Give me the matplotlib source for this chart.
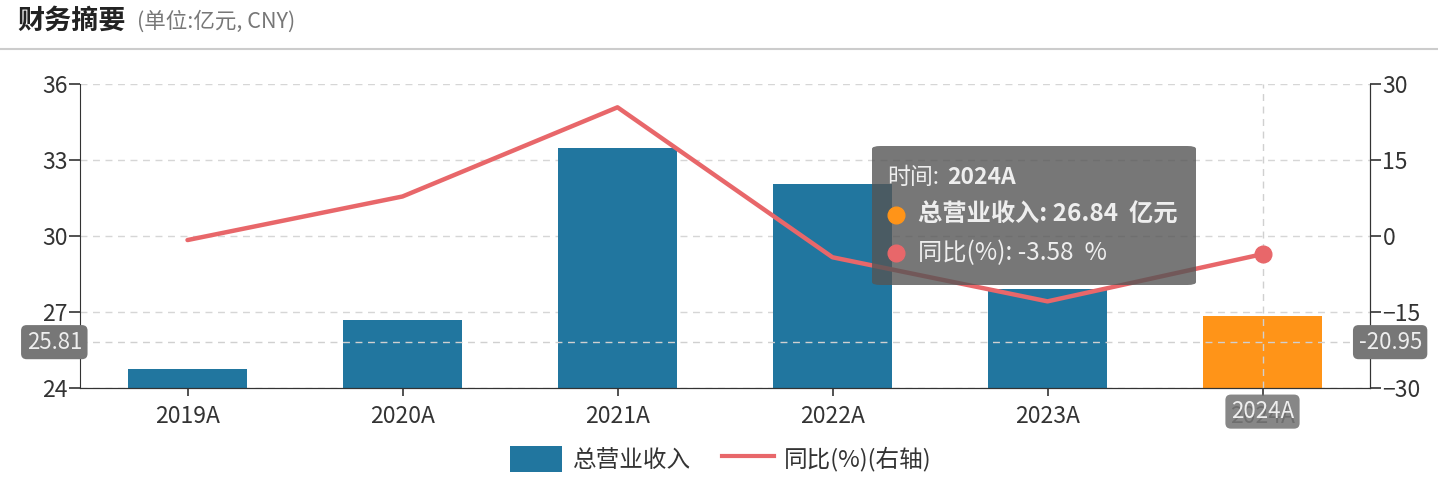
import matplotlib
matplotlib.use("Agg")
import matplotlib.pyplot as plt
from matplotlib.patches import FancyBboxPatch
from matplotlib.lines import Line2D

plt.rcParams['font.family'] = ['Noto Sans CJK SC', 'DejaVu Sans']

years = ["2019A", "2020A", "2021A", "2022A", "2023A", "2024A"]
revenue = [24.75, 26.68, 33.47, 32.05, 27.90, 26.84]
yoy = [-0.8, 7.8, 25.4, -4.2, -12.9, -3.58]
cross_left = 25.81
cross_right = -20.95

BLUE = "#21769f"
ORANGE = "#ff9418"
RED = "#e8676a"
TXT = "#333333"

W, H = 1438, 480


def fx(px):
    return px / W


def fy(py):
    return (H - py) / H


fig = plt.figure(figsize=(14.38, 4.8), dpi=100)
ax = fig.add_axes([fx(80), fy(388), 1290 / W, 304 / H])
ax2 = ax.twinx()

x = list(range(len(years)))
colors = [BLUE] * 5 + [ORANGE]
ax.bar(x, revenue, width=0.555, color=colors, zorder=2)
ax.set_xlim(-0.5, len(years) - 0.5)
ax.set_ylim(24, 36)
ax.set_yticks([24, 27, 30, 33, 36])
ax.set_xticks(x)
ax.set_xticklabels(years)
ax.grid(axis="y", color="#d6d6d6", ls=(0, (5, 4)), lw=1, zorder=0)
ax.set_axisbelow(True)

ax2.plot(x, yoy, color=RED, lw=3.2, zorder=3, solid_capstyle="round")
ax2.plot(x[-1], yoy[-1], "o", ms=12, color=RED, zorder=4)
ax2.set_ylim(-30, 30)
ax2.set_yticks([-30, -15, 0, 15, 30])

for a in (ax, ax2):
    a.spines["top"].set_visible(False)
    for s in ("left", "right", "bottom"):
        a.spines[s].set_color(TXT)
    a.tick_params(colors=TXT, labelsize=16.5, length=8, width=1.2, pad=1)
ax.tick_params(axis="x", length=6, pad=6)
ax2.spines["left"].set_visible(False)

# crosshair at 2024A
ax.axvline(x[-1], color="#d0d0d0", ls=(0, (5, 4)), lw=1, zorder=5)
ax.axhline(cross_left, color="#d0d0d0", ls=(0, (5, 4)), lw=1, zorder=5)
box = dict(boxstyle="round,pad=0.25,rounding_size=0.25", fc="#777777", ec="none")
lab = dict(color="#eeeeee", fontsize=16, va="center", bbox=box)
ax.annotate(f"{cross_left:.2f}", xy=(0, cross_left), xycoords=("axes fraction", "data"),
            xytext=(-18.5, 0), textcoords="offset points", ha="center", zorder=10,
            annotation_clip=False, **lab)
ax2.annotate(f"{cross_right:.2f}", xy=(1, cross_right), xycoords=("axes fraction", "data"),
             xytext=(14.5, 0), textcoords="offset points", ha="center", zorder=10,
             annotation_clip=False, **lab)
ax.annotate(years[-1], xy=(x[-1], 0), xycoords=("data", "axes fraction"),
            xytext=(0, -17), textcoords="offset points", ha="center", zorder=10,
            annotation_clip=False, color="#eeeeee", fontsize=16, va="center",
            bbox=dict(box, alpha=0.88))

# tooltip
tip = FancyBboxPatch((fx(872), fy(285)), 324 / W, 139 / H,
                     boxstyle="round,pad=0,rounding_size=0.006",
                     transform=fig.transFigure, fc="#555555", ec="none",
                     alpha=0.8, zorder=20)
fig.patches.append(tip)
fig.text(fx(887), fy(177), "时间:", color="#eeeeee", fontsize=16.5, va="center", zorder=21)
fig.text(fx(947), fy(177), "2024A", color="#eeeeee", fontsize=16.5,
         weight="bold", va="center", zorder=21)
for yy, c in ((215, ORANGE), (253, RED)):
    fig.add_artist(Line2D([fx(896)], [fy(yy)], marker="o", ms=12, color=c,
                          transform=fig.transFigure, zorder=21))
fig.text(fx(918), fy(215), "总营业收入: 26.84  亿元", color="#eeeeee",
         fontsize=17.5, weight="bold", va="center", zorder=21)
fig.text(fx(918), fy(253), "同比(%): -3.58  %", color="#eeeeee",
         fontsize=17.5, va="center", zorder=21)

# title and separator
fig.text(fx(17), fy(21), "财务摘要", fontsize=19.5, weight="bold",
         color="#222222", va="center")
fig.text(fx(137), fy(22), "(单位:亿元, CNY)", fontsize=15.5,
         color="#777777", va="center")
fig.add_artist(Line2D([0, 1], [fy(49)] * 2, color="#cccccc", lw=1.5))

# legend
handles = [FancyBboxPatch((0, 0), 1, 1, boxstyle="round,pad=0,rounding_size=0.3",
                          fc=BLUE, ec="none"),
           Line2D([0], [0], color=RED, lw=3)]
fig.legend(handles, ["总营业收入", "同比(%)(右轴)"], loc="center",
           bbox_to_anchor=(fx(721), fy(459)), ncol=2, frameon=False,
           fontsize=17, handlelength=2.2, handleheight=1.3, handletextpad=0.45,
           columnspacing=1.3, labelcolor=TXT)

fig.savefig("out.png", dpi=100)
